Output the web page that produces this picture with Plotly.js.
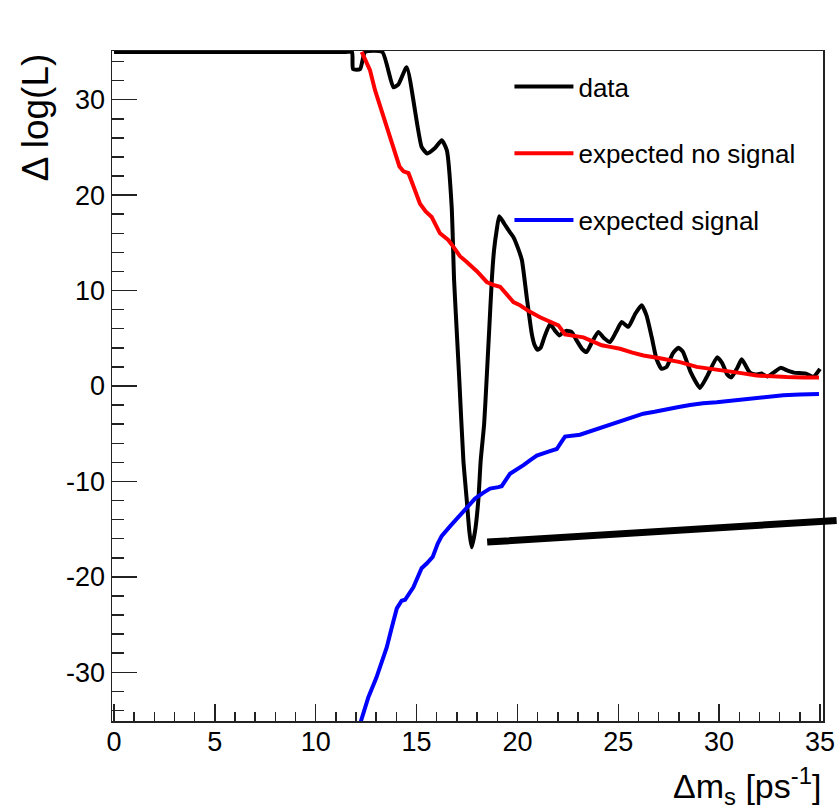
<!DOCTYPE html>
<html>
<head>
<meta charset="utf-8">
<script src="https://cdn.plot.ly/plotly-3.0.1.min.js"></script>
<style>
  html, body { margin: 0; padding: 0; background: #fff; }
  #chart { width: 838px; height: 806px; }
</style>
</head>
<body>
<div id="chart"></div>
<script>
// Likelihood scan: observed data and the two expectation curves
const dataX = [0, 5, 10, 11.5, 11.8, 11.85, 12.2, 12.45, 13.3, 13.85, 14.1, 14.51, 15.25, 15.53, 15.9, 16.25, 16.5,
  16.74, 16.86, 16.99, 17.12, 17.32, 17.49, 17.62, 17.73, 17.9, 18.06, 18.18, 18.35, 18.47, 18.6,
  18.73, 18.84, 18.97, 19.1, 19.35, 19.63, 19.8, 20.0, 20.22, 20.46, 20.71, 20.85, 21.0, 21.15,
  21.35, 21.62, 21.86, 22.08, 22.25, 22.44, 22.69, 22.9, 23.2, 23.43, 23.7, 24.01, 24.3, 24.59,
  24.9, 25.17, 25.5, 25.85, 26.16, 26.4, 26.66, 26.9, 27.15, 27.4, 27.7, 27.98, 28.2, 28.6,
  29.05, 29.4, 29.9, 30.15, 30.4, 30.6, 30.9, 31.12, 31.35, 31.53, 31.8, 32.1, 32.4, 32.7,
  33.05, 33.4, 33.7, 34.3, 34.67, 35.0];
const dataY = [35, 35, 35, 35, 35, 33.2, 33.2, 35, 35, 31.3, 31.6, 33.4, 25.05, 24.36, 24.9, 25.75, 24.7,
  18.8, 11.1, 5.8, 0.6, -7.8, -12.0, -15.3, -16.9, -15.2, -12.0, -7.8, -4.0, 0.6, 5.84,
  11.1, 14.2, 16.3, 17.8, 17.0, 16.1, 15.6, 14.6, 13.2, 9.33, 5.5, 4.3, 3.8, 4.0,
  5.2, 6.5, 5.8, 5.3, 5.6, 5.8, 5.66, 4.9, 3.9, 3.56, 4.6, 5.66, 5.0, 4.6,
  5.7, 6.7, 6.2, 7.6, 8.46, 7.4, 5.1, 2.8, 1.8, 2.0, 3.4, 4.0, 3.6, 1.4,
  -0.2, 1.0, 3.0, 2.4, 1.2, 0.9, 1.9, 2.8, 2.0, 1.4, 1.2, 1.3, 1.0, 1.4,
  1.9, 1.6, 1.4, 1.3, 0.95, 1.8];

const noSignalX = [12.28, 12.69, 12.94, 13.27, 13.68, 13.93, 14.15, 14.35, 14.6, 14.85, 15.17, 15.45,
  15.75, 16.16, 16.57, 16.82, 17.15, 17.49, 18.0, 18.48, 18.8, 19.14, 19.5, 19.8, 20.13, 20.6,
  21.12, 21.6, 22.03, 22.36, 22.8, 23.27, 23.7, 24.18, 24.6, 25.09, 25.7, 26.25, 27.07, 27.57,
  28.06, 28.89, 29.6, 30.38, 31.1, 31.86, 32.6, 33.35, 34.2, 34.95];
const noSignalY = [35, 33.1, 31.0, 28.9, 26.1, 24.4, 23.0, 22.5, 22.3, 20.9, 19.1, 18.3,
  17.7, 16.0, 15.3, 14.6, 13.6, 13.0, 12.0, 10.9, 10.6, 10.4, 9.5, 8.8, 8.46, 7.8,
  7.2, 6.8, 6.36, 5.4, 5.3, 5.1, 4.7, 4.27, 4.1, 3.9, 3.5, 3.2, 2.9, 2.7,
  2.5, 2.0, 1.8, 1.65, 1.35, 1.1, 1.0, 0.94, 0.9, 0.88];

const signalX = [12.2, 12.61, 13.0, 13.19, 13.52, 13.77, 14.02, 14.26, 14.43, 14.84, 15.05, 15.25,
  15.5, 15.8, 16.05, 16.25, 16.7, 17.1, 17.5, 17.9, 18.3, 18.64, 19.05, 19.22, 19.63, 19.96,
  20.3, 20.62, 20.96, 21.5, 21.95, 22.2, 22.36, 23.1, 23.93, 24.76, 25.5, 26.24, 26.8, 27.4,
  28.0, 28.56, 29.2, 29.88, 30.7, 31.53, 32.4, 33.18, 34.0, 34.95];
const signalY = [-35.4, -32.6, -30.6, -29.5, -27.4, -25.3, -23.3, -22.5, -22.4, -21.1, -20.0, -19.1,
  -18.6, -17.9, -16.5, -15.7, -14.6, -13.7, -12.8, -11.8, -11.2, -10.75, -10.6, -10.5, -9.2, -8.8,
  -8.3, -7.8, -7.3, -6.9, -6.6, -5.8, -5.3, -5.1, -4.5, -3.9, -3.4, -2.9, -2.7, -2.5,
  -2.2, -2.0, -1.8, -1.7, -1.5, -1.3, -1.1, -0.97, -0.9, -0.85];

const seriesNames = ['data', 'expected no signal', 'expected signal'];
const seriesColors = ['#000000', '#ff0000', '#0000ff'];
const seriesShapes = ['spline', 'linear', 'linear'];

const xTickVals = [0, 5, 10, 15, 20, 25, 30, 35];
const xTickText = ['0', '5', '10', '15', '20', '25', '30', '35'];
const yTickVals = [-30, -20, -10, 0, 10, 20, 30];
const yTickText = ['-30', '-20', '-10', '0', '10', '20', '30'];

// thick pointer line drawn across the lower right of the frame
const pointerFrom = [18.5, -16.35];
const pointerTo = [35.9, -14.08];

const FONT = 'Liberation Sans, Arial, Helvetica, sans-serif';
const AX = '#222222';

const traces = [
  [dataX, dataY], [noSignalX, noSignalY], [signalX, signalY]
].map(function (s, i) {
  return {
    type: 'scatter', mode: 'lines',
    x: s[0], y: s[1],
    name: seriesNames[i],
    legendgroup: 'g' + i,
    line: { color: seriesColors[i], width: 4, shape: seriesShapes[i], smoothing: 0.5 },
    hoverinfo: 'skip'
  };
});

const layout = {
  width: 838, height: 806,
  margin: { l: 112, r: 15, t: 51, b: 85, pad: 0 },
  paper_bgcolor: '#ffffff', plot_bgcolor: '#ffffff',
  font: { family: FONT, color: '#000' },
  showlegend: true,
  legend: {
    x: 0.559, y: 0.982, xanchor: 'left', yanchor: 'top',
    bgcolor: 'rgba(0,0,0,0)', borderwidth: 0,
    font: { family: FONT, size: 26, color: '#000' },
    traceorder: 'grouped', tracegroupgap: 30, itemwidth: 59
  },
  xaxis: {
    range: [-0.1, 35.15], tickmode: 'array', tickvals: xTickVals, ticktext: xTickText,
    ticks: 'inside', ticklen: 17, tickwidth: 1.5, tickcolor: AX, ticklabelstandoff: -4,
    minor: { tickmode: 'linear', tick0: 0, dtick: 1, ticks: 'inside', ticklen: 9, tickwidth: 1.5, tickcolor: AX, showgrid: false },
    showline: true, linecolor: AX, linewidth: 1.5, mirror: true,
    showgrid: false, zeroline: false,
    tickfont: { family: FONT, size: 27, color: '#000' }
  },
  yaxis: {
    range: [-35.1, 35.1], tickmode: 'array', tickvals: yTickVals, ticktext: yTickText,
    ticks: 'inside', ticklen: 25, tickwidth: 1.5, tickcolor: AX,
    minor: { tickmode: 'linear', tick0: 0, dtick: 2, ticks: 'inside', ticklen: 12, tickwidth: 1.5, tickcolor: AX, showgrid: false },
    showline: true, linecolor: AX, linewidth: 1.5, mirror: true,
    showgrid: false, zeroline: false,
    tickfont: { family: FONT, size: 27, color: '#000' }
  },
  annotations: [
    {
      xref: 'paper', yref: 'paper', x: 1, y: -0.058, xanchor: 'right', yanchor: 'top',
      text: 'Δm<sub>s</sub> [ps<sup>-1</sup>]', showarrow: false,
      font: { family: FONT, size: 34, color: '#000' }
    },
    {
      xref: 'paper', yref: 'paper', x: -0.108, y: 1, xanchor: 'center', yanchor: 'top',
      text: 'Δ log(L)', textangle: -90, showarrow: false,
      font: { family: FONT, size: 37, color: '#000' }
    },
    {
      xref: 'x', yref: 'y', x: pointerFrom[0], y: pointerFrom[1],
      axref: 'x', ayref: 'y', ax: pointerTo[0], ay: pointerTo[1],
      text: '', showarrow: true, arrowhead: 0, arrowwidth: 7, arrowcolor: '#000', standoff: 0
    }
  ]
};

Plotly.newPlot('chart', traces, layout, { staticPlot: true, displayModeBar: false });
</script>
</body>
</html>
